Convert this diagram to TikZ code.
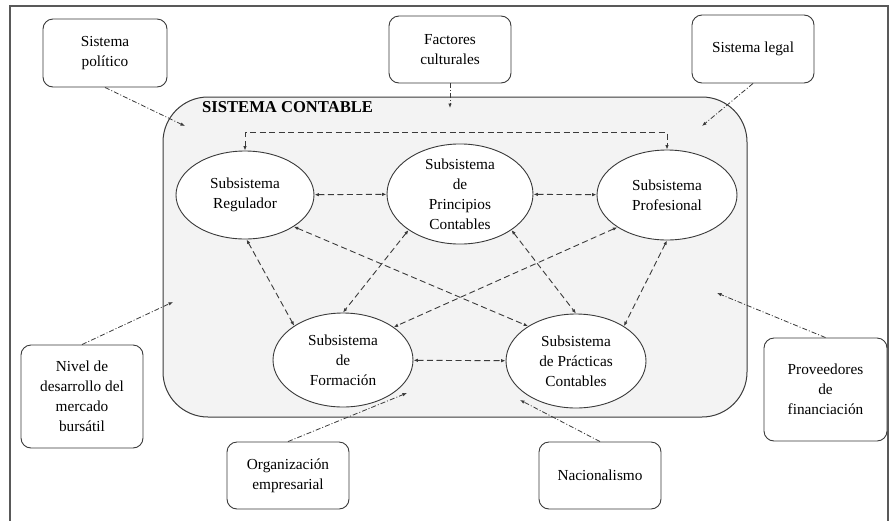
\documentclass[tikz,border=0pt]{standalone}
\usepackage{fontspec}
\setmainfont{Liberation Serif}
\usetikzlibrary{shapes.geometric,arrows.meta}
\newcommand\myfs{\fontsize{15.3}{20}\selectfont}
\definecolor{linegray}{HTML}{3A3A3A}
\definecolor{panelgray}{HTML}{F3F3F3}
\begin{document}
\begin{tikzpicture}[x=1pt,y=-1pt,
  box/.style={draw=linegray,line width=0.9pt,rounded corners=10pt,fill=white,align=center,font=\myfs,inner sep=0pt},
  sub/.style={ellipse,draw=linegray,line width=0.9pt,fill=white,align=center,font=\myfs,inner sep=0pt},
  dlink/.style={draw=linegray,line width=0.9pt,dash pattern=on 6pt off 3.5pt,{Latex[length=4.5pt,width=3.5pt]}-{Latex[length=4.5pt,width=3.5pt]}},
  ext/.style={draw=linegray,line width=0.8pt,dash pattern=on 5pt off 2pt on 1pt off 2pt,-{Latex[length=4.5pt,width=3.5pt]}}]
\useasboundingbox (0,0) rectangle (889,520);
\draw[draw=black!65,line width=1.2pt] (10,6) rectangle (888,530);
% container
\node[draw=linegray,line width=1pt,fill=panelgray,rounded corners=45pt,minimum width=584pt,minimum height=320pt,inner sep=0pt] (sc) at (455,257) {};
\node[anchor=west,inner sep=0pt,font=\fontsize{16.6}{18}\selectfont\bfseries] (title) at (202,107) {SISTEMA CONTABLE};
% external boxes
\node[box,minimum width=124pt,minimum height=68pt] (pol) at (105,53) {Sistema\\político};
\node[box,minimum width=122pt,minimum height=67pt] (fac) at (450,49.5) {Factores\\culturales};
\node[box,minimum width=122pt,minimum height=68pt] (leg) at (753,49) {Sistema legal};
\node[box,minimum width=122pt,minimum height=103pt] (niv) at (82,396.5) {Nivel de\\desarrollo del\\mercado\\bursátil};
\node[box,minimum width=122pt,minimum height=67pt] (org) at (288,475.5) {Organización\\empresarial};
\node[box,minimum width=122pt,minimum height=67pt] (nac) at (600,475.5) {Nacionalismo};
\node[box,minimum width=123pt,minimum height=103pt] (prov) at (825.5,389.5) {Proveedores\\de\\financiación};
% subsystems
\node[sub,minimum width=138pt,minimum height=88pt] (reg) at (245,195) {Subsistema\\Regulador};
\node[sub,minimum width=146pt,minimum height=100pt] (prin) at (460,194) {Subsistema\\de\\Principios\\Contables};
\node[sub,minimum width=140pt,minimum height=90pt] (prof) at (667,195) {Subsistema\\Profesional};
\node[sub,minimum width=140pt,minimum height=94pt] (form) at (343,360) {Subsistema\\de\\Formación};
\node[sub,minimum width=140pt,minimum height=94pt] (prac) at (576,361) {Subsistema\\de Prácticas\\Contables};
% internal links
\draw[dlink] (reg) -- (prin);
\draw[dlink] (prin) -- (prof);
\draw[dlink] (form) -- (prac);
\draw[dlink] (reg.north) -- ++(0,-18) -| (prof.north);
\draw[dlink] (reg.-88) -- (form.145);
\draw[dlink] (reg.-33) -- (prac.144);
\draw[dlink] (prin.-145) -- (form.north);
\draw[dlink] (prin.-35) -- (prac.north);
\draw[dlink] (prof.-147) -- (form.33);
\draw[dlink] (prof.south) -- (prac.36);
% external influences
\coordinate (epol) at (185,126);
\coordinate (efac) at (450,108);
\coordinate (eleg) at (702,126);
\coordinate (eniv) at (173,302);
\coordinate (eorg) at (407,393);
\coordinate (enac) at (520,400);
\coordinate (eprov) at (717,293);
\draw[ext] (pol.south) -- (epol);
\draw[ext] (fac.south) -- (efac);
\draw[ext] (leg.south) -- (eleg);
\draw[ext] (niv.north) -- (eniv);
\draw[ext] (org.north) -- (eorg);
\draw[ext] (nac.north) -- (enac);
\draw[ext] (prov.north) -- (eprov);
\end{tikzpicture}
\end{document}
